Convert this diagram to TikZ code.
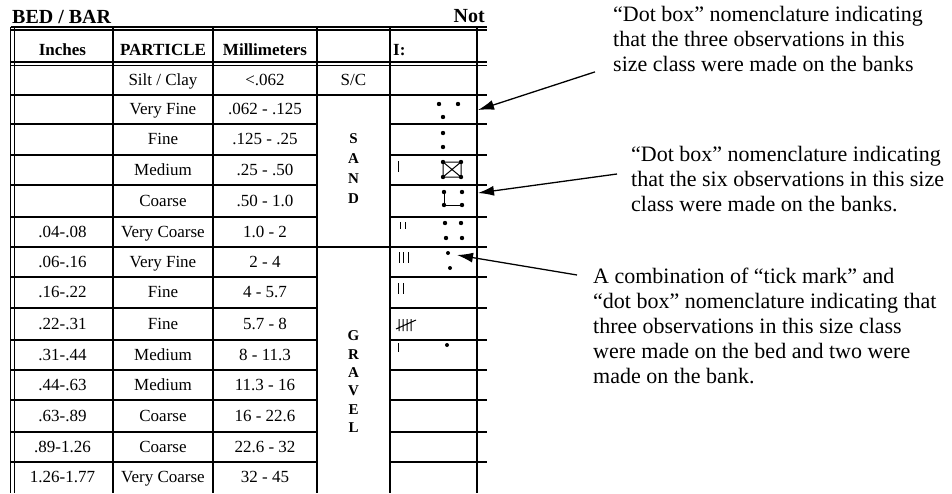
\documentclass[tikz,border=0pt]{standalone}
\usepackage{fontspec}
\setmainfont{Liberation Serif}
\usetikzlibrary{arrows.meta}

\begin{document}
\begin{tikzpicture}[x=1pt,y=-1pt,
	grid/.style={line width=1.2pt},
	heavy/.style={line width=2pt},
	cell/.style={anchor=base,inner sep=0pt,font=\fontsize{17}{17}\selectfont},
	head/.style={cell,font=\fontsize{17}{17}\selectfont\bfseries},
	letter/.style={inner sep=0pt,font=\fontsize{15}{15}\selectfont\bfseries},
	note/.style={anchor=north west,align=left,inner sep=0pt,font=\fontsize{22}{25}\selectfont},
	pointer/.style={line width=1.3pt,-{Latex[length=16pt,width=10pt]}},
	tally/.style={line width=1pt}]
	\useasboundingbox (0,0) rectangle (952,493);

	% title line
	\node[anchor=base west,inner sep=0pt,font=\fontsize{20}{20}\selectfont\bfseries] (title) at (12,23) {BED / BAR};
	\node[anchor=base east,inner sep=0pt,font=\fontsize{20}{20}\selectfont\bfseries] (nt) at (485,22) {Not};

	% rules of the table
	\draw[grid] (10.5,27) -- (487,27);
	\draw[grid] (10.5,30) -- (487,30);
	\draw[grid] (10.5,62) -- (487,62);
	\draw[grid] (10.5,65.5) -- (487,65.5);
	\draw[heavy] (10.5,95) -- (487,95);
	\draw[heavy] (10.5,247) -- (487,247);
	\foreach \y in {124,155,185,217,277,308,340,370,400,432,462}{
		\draw[grid] (10.5,\y) -- (317,\y);
		\draw[grid] (390,\y) -- (487,\y);
	}
	\foreach \x in {10.5,14.5,113,213,317,390,477}
		\draw[grid] (\x,27) -- (\x,493);

	% header
	\node[head] (hin) at (62.5,55) {Inches};
	\node[head] (hpa) at (163,55) {PARTICLE};
	\node[head] (hmm) at (265,55) {Millimeters};
	\node[head,anchor=base west] (hob) at (393,55) {I:};

	% size classes
	\foreach \y/\inch/\part/\mm [count=\i] in {
		85/{}/{Silt / Clay}/{<.062},
		114.5/{}/{Very Fine}/{.062 - .125},
		144.5/{}/{Fine}/{.125 - .25},
		175/{}/{Medium}/{.25 - .50},
		206/{}/{Coarse}/{.50 - 1.0},
		237/{.04-.08}/{Very Coarse}/{1.0 - 2},
		267/{.06-.16}/{Very Fine}/{2 - 4},
		297.5/{.16-.22}/{Fine}/{4 - 5.7},
		329/{.22-.31}/{Fine}/{5.7 - 8},
		360/{.31-.44}/{Medium}/{8 - 11.3},
		390/{.44-.63}/{Medium}/{11.3 - 16},
		421/{.63-.89}/{Coarse}/{16 - 22.6},
		452/{.89-1.26}/{Coarse}/{22.6 - 32},
		482.5/{1.26-1.77}/{Very Coarse}/{32 - 45}}{
		\node[cell] (in\i) at (62.5,\y) {\inch};
		\node[cell] (pa\i) at (163,\y) {\part};
		\node[cell] (mm\i) at (265,\y) {\mm};
	}
	\node[cell] (sc) at (353.5,85) {S/C};
	\foreach \l [count=\k] in {S,A,N,D}
		\node[letter] (sand\k) at (353.5,{139+19.7*(\k-1)}) {\l};
	\foreach \l [count=\k] in {G,R,A,V,E,L}
		\node[letter] (grav\k) at (353.5,{336+18.3*(\k-1)}) {\l};

	% dot boxes
	\fill (439,104) circle[radius=2.2pt] (458,104) circle[radius=2.2pt] (443,117) circle[radius=2.2pt];
	\fill (443,133) circle[radius=2.2pt] (443,147) circle[radius=2.2pt];
	\draw[tally] (443,162) rectangle (461,177) (443,162) -- (461,177) (461,162) -- (443,177);
	\fill (443,162) circle[radius=2.2pt] (461,162) circle[radius=2.2pt] (443,177) circle[radius=2.2pt] (461,177) circle[radius=2.2pt];
	\draw[tally] (444,192) -- (444,205) -- (462,205);
	\fill (444,192) circle[radius=2.2pt] (462,192) circle[radius=2.2pt] (444,205) circle[radius=2.2pt] (462,205) circle[radius=2.2pt];
	\fill (445,223) circle[radius=2.2pt] (461,223) circle[radius=2.2pt] (446,238) circle[radius=2.2pt] (462,238) circle[radius=2.2pt];
	\fill (448,253) circle[radius=2pt] (450,268) circle[radius=2pt];
	\fill (447,345) circle[radius=2pt];

	% tick marks
	\draw[tally] (398,161) -- (398,172);
	\draw[tally] (400,222) -- (400,229) (405,222) -- (405,229);
	\draw[tally] (399,252) -- (399,263) (403,252) -- (403,263) (408,252) -- (408,263);
	\draw[tally] (398,283) -- (398,294) (403,283) -- (403,294);
	\draw[tally] (399,319) -- (399,331) (403,319) -- (403,331) (407,319) -- (407,331) (411,319) -- (411,331) (396,329) -- (416,320);
	\draw[tally] (398,343) -- (398,352);

	% notes
	\node[note] (t1) at (613,6) {“Dot box” nomenclature indicating\\that the three observations in this\\size class were made on the banks};
	\node[note] (t2) at (631,146) {“Dot box” nomenclature indicating\\that the six observations in this size\\class were made on the banks.};
	\node[note] (t3) at (593,268) {A combination of “tick mark” and\\“dot box” nomenclature indicating that\\three observations in this size class\\were made on the bed and two were\\made on the bank.};

	\coordinate (vf) at (478,110);
	\coordinate (co) at (478,193);
	\coordinate (vfg) at (457,255);
	\draw[pointer] ([xshift=-18pt]t1.south west) -- (vf);
	\draw[pointer] ([xshift=-14pt,yshift=5pt]t2.west) -- (co);
	\draw[pointer] ([xshift=-16pt,yshift=-7pt]t3.north west) -- (vfg);
\end{tikzpicture}
\end{document}
